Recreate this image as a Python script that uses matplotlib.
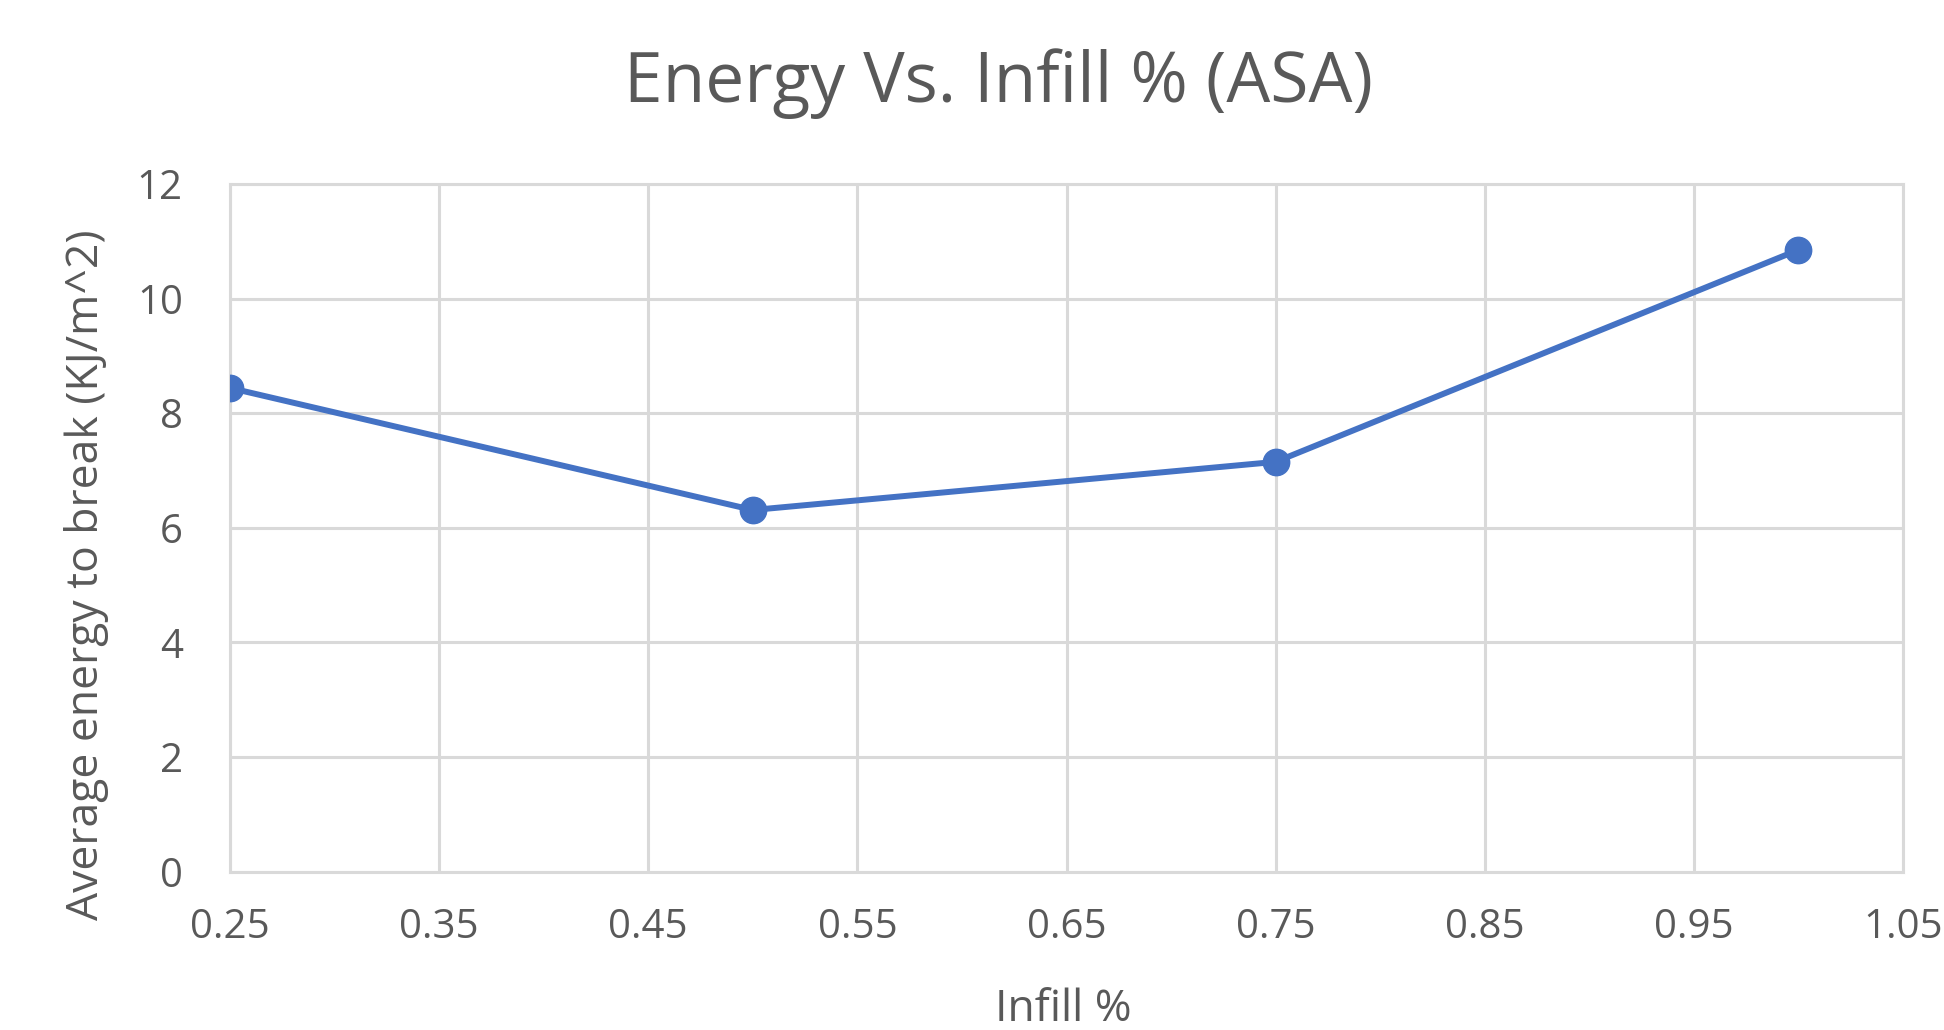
import matplotlib
matplotlib.use("Agg")
import matplotlib.pyplot as plt

infill = [0.25, 0.50, 0.75, 1.00]
energy = [8.44, 6.31, 7.15, 10.85]
xticks = [0.25, 0.35, 0.45, 0.55, 0.65, 0.75, 0.85, 0.95, 1.05]
yticks = [0, 2, 4, 6, 8, 10, 12]

plt.rcParams['font.family'] = ['Open Sans', 'DejaVu Sans']
W, H = 1944, 1030
fig = plt.figure(figsize=(W/100, H/100), dpi=100)
L, R, T, B = 230, 1903, 184, 871.5
ax = fig.add_axes([L/W, 1-B/H, (R-L)/W, (B-T)/H])

grid_c = '#d9d9d9'
text_c = '#595959'
ax.plot(infill, energy, color='#4472C4', lw=4.3, marker='o', ms=19, zorder=3)
ax.set_xlim(0.25, 1.05)
ax.set_ylim(0, 12)
ax.set_xticks(xticks)
ax.set_xticklabels([f"{v:.2f}" for v in xticks])
ax.set_yticks(yticks)
ax.grid(True, color=grid_c, lw=2.2)
for s in ax.spines.values():
    s.set_color(grid_c)
    s.set_linewidth(2.2)
ax.tick_params(length=0, labelsize=29, labelcolor=text_c)
ax.tick_params(axis='x', pad=26)
ax.tick_params(axis='y', pad=34)
ax.set_xlabel('Infill %', fontsize=32, color=text_c)
ax.xaxis.set_label_coords((1063-L)/(R-L), -(1010-B)/(B-T))
ax.xaxis.label.set_va('center')
ax.set_ylabel('Average energy to break (KJ/m^2)', fontsize=32, color=text_c)
ax.yaxis.set_label_coords(-(L-87)/(R-L), (B-575)/(B-T))
ax.yaxis.label.set_va('center')
fig.text(998/W, 1-84/H, 'Energy Vs. Infill % (ASA)', fontsize=50, color=text_c,
         ha='center', va='center')
fig.savefig('out.png', dpi=100, facecolor='white')
